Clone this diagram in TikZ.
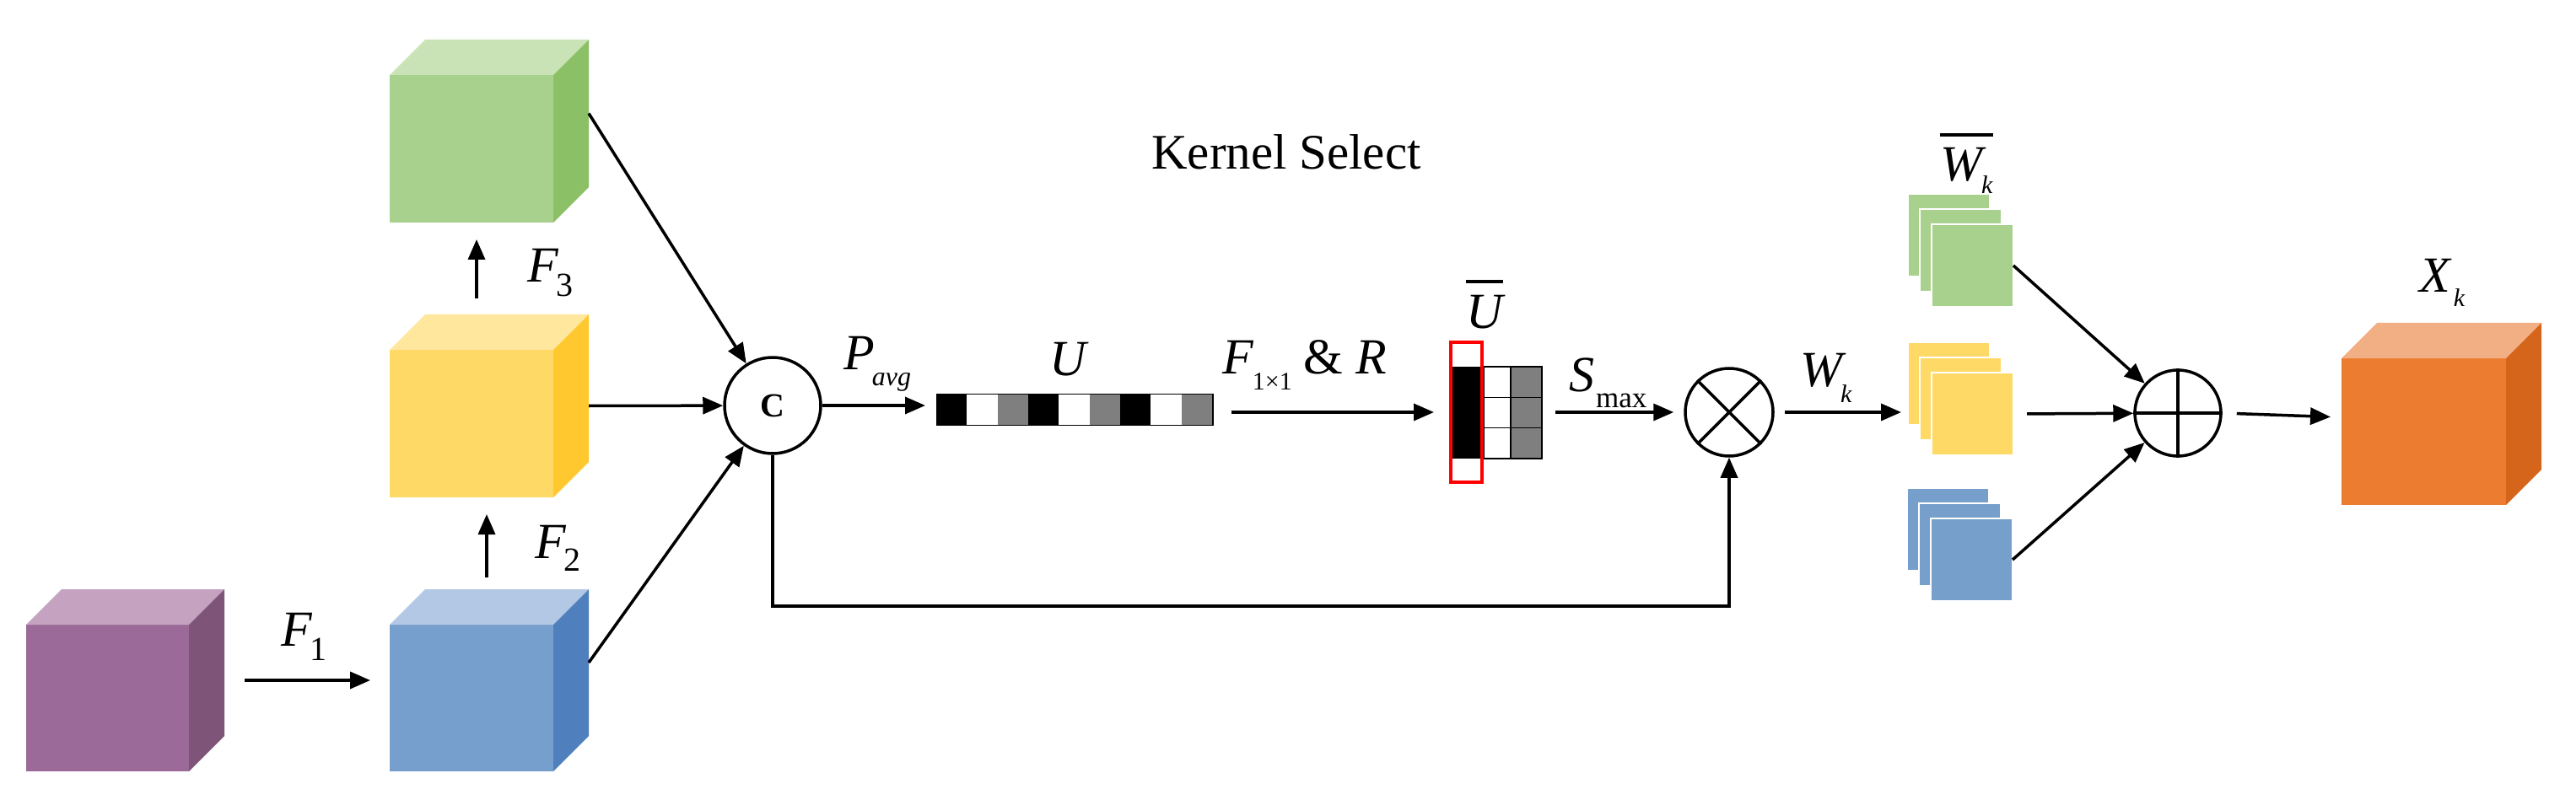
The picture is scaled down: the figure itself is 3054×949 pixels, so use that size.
\documentclass[tikz,border=0pt]{standalone}
\usepackage{fontspec}
\setmainfont{Liberation Serif}
\usetikzlibrary{arrows.meta,calc}
\definecolor{cPF}{HTML}{9B6A98}\definecolor{cPT}{HTML}{C4A2C0}\definecolor{cPS}{HTML}{7F5479}
\definecolor{cBF}{HTML}{779FCD}\definecolor{cBT}{HTML}{B2C8E4}\definecolor{cBS}{HTML}{4F80BD}
\definecolor{cYF}{HTML}{FFD966}\definecolor{cYT}{HTML}{FFE79D}\definecolor{cYS}{HTML}{FFC82E}
\definecolor{cGF}{HTML}{A9D18E}\definecolor{cGT}{HTML}{C9E2B6}\definecolor{cGS}{HTML}{8BC066}
\definecolor{cOF}{HTML}{EC7C30}\definecolor{cOT}{HTML}{F3AF84}\definecolor{cOS}{HTML}{D5651B}
\definecolor{cSB}{HTML}{769FCC}
\definecolor{cGray}{HTML}{7F7F7F}
\tikzset{
  conn/.style={line width=3.5pt, -{Triangle[length=24pt,width=20pt]}},
  face/.style={draw=none, inner sep=0pt, outer sep=0pt, anchor=north west},
  lab/.style={inner sep=0pt, anchor=base west, font=\fontsize{60}{60}\selectfont\itshape},
  opc/.style={circle, draw, line width=3.5pt, inner sep=0pt, fill=white},
  sheet/.style={draw=white, line width=1.5pt, inner sep=0pt, outer sep=0pt, minimum width=97pt, minimum height=98pt, anchor=north west},
}
\newcommand\mycube[8]{%
  \node[face, fill=#6, minimum width=#4pt, minimum height=#5pt] (#1) at (#2,#3) {};
  \fill[#7] (#1.north west) -- ++(42,-42) -- ($(#1.north east)+(42,-42)$) -- (#1.north east) -- cycle;
  \fill[#8] (#1.north east) -- ++(42,-42) -- ($(#1.south east)+(42,-42)$) -- (#1.south east) -- cycle;
}
\newcommand\mysheets[4]{%
  \node[sheet, fill=#4] (#1B) at (#2,#3) {};
  \node[sheet, fill=#4] (#1M) at ($(#1B.north west)+(14,18)$) {};
  \node[sheet, fill=#4] (#1F) at ($(#1M.north west)+(14,18)$) {};
}
\newcommand\lbsub[5]{#1\kern#5\raisebox{-#3}{\fontsize{#4}{#4}\selectfont#2}}
\begin{document}
\begin{tikzpicture}[x=1pt,y=-1pt]
\useasboundingbox (0,0) rectangle (3054,949);
% cubes
\mycube{purple}{31}{741}{193}{174}{cPF}{cPT}{cPS}
\mycube{blue}{462}{741}{194}{174}{cBF}{cBT}{cBS}
\mycube{yellow}{462}{415}{194}{175}{cYF}{cYT}{cYS}
\mycube{green}{462}{89}{194}{175}{cGF}{cGT}{cGS}
\mycube{orange}{2776}{425}{195}{174}{cOF}{cOT}{cOS}
% sheets
\mysheets{g}{2262}{230}{cGF}
\mysheets{y}{2262}{406}{cYF}
\mysheets{b}{2261}{579}{cSB}
% labels
\node[lab, font=\fontsize{59}{59}\selectfont] (ks) at (1365,201) {Kernel Select};
\node[lab] (lF1) at (333,766) {\lbsub{F}{\upshape 1}{17pt}{40}{-2pt}};
\node[lab] (lF2) at (634,662) {\lbsub{F}{\upshape 2}{15pt}{40}{-2pt}};
\node[lab] (lF3) at (625,335) {\lbsub{F}{\upshape 3}{17pt}{40}{-2pt}};
\node[lab] (lP) at (1000,438) {\lbsub{P}{avg}{19pt}{32}{-3pt}};
\node[lab] (lU) at (1244,445) {U};
\node[lab] (lFR) at (1449,443) {\lbsub{F}{\upshape 1×1}{19pt}{30}{-1pt}\hspace{14pt}{\upshape\&} R};
\node[lab] (lUb) at (1738,389) {\vbox{\hrule height 4pt\kern14pt\hbox{U}}};
\node[lab] (lS) at (1860,464) {\lbsub{S}{\upshape max}{19pt}{35}{2pt}};
\node[lab] (lW) at (2134,458) {\lbsub{W}{k}{19pt}{30}{-2pt}};
\node[lab] (lWb) at (2300,215) {\vbox{\hrule height 4pt\kern14pt\hbox{\lbsub{W}{k}{15pt}{30}{-1pt}}}};
\node[lab] (lX) at (2868,347) {\lbsub{X}{k}{17pt}{30}{4pt}};
% operators
\node[opc, minimum size=114pt, font=\fontsize{40}{40}\selectfont\bfseries] (C) at (916,481) {C};
\node[opc, minimum size=104pt] (otimes) at (2050,489) {};
\draw[line width=3.5pt] (otimes.45) -- (otimes.225) (otimes.135) -- (otimes.315);
\node[opc, minimum size=102pt] (oplus) at (2582,490) {};
\draw[line width=3.5pt] (oplus.north) -- (oplus.south) (oplus.west) -- (oplus.east);
% U bar
\foreach \i/\c in {0/black,1/white,2/cGray,3/black,4/white,5/cGray,6/black,7/white,8/cGray}
  \fill[\c] (1110+36.33*\i,467.5) rectangle ++(36.33,37);
\node[draw, line width=1.5pt, inner sep=0pt, minimum width=327pt, minimum height=37pt, anchor=west] (ubar) at (1110,486) {};
% U-bar block
\foreach \r in {0,1,2} {
  \filldraw[fill=white, draw=black, line width=1.5pt] (1759,435+36.33*\r) rectangle ++(32,36.33);
  \filldraw[fill=cGray, draw=black, line width=1.5pt] (1791,435+36.33*\r) rectangle ++(37,36.33);
}
\fill[black] (1722,435) rectangle (1757,544);
\node[draw=red, line width=4pt, inner sep=0pt, minimum width=37pt, minimum height=166pt] (ured) at (1738.5,489) {};
\coordinate (ugr) at (1828,489);
% connectors
\coordinate (pe) at ($(purple.east)+(42,-21)$);
\draw[conn, shorten <=24pt, shorten >=23pt] (pe) -- (pe -| blue.west);
\draw[conn] ($(blue.north)+(18,-56)$) -- ($(yellow.south)+(18,20)$);
\draw[conn] ($(yellow.north)+(6,-61)$) -- ($(green.south)+(6,20)$);
\draw[conn] ($(green.east)+(42,-42)$) -- (C);
\draw[conn] ($(yellow.east)+(42,-21)$) -- (C);
\draw[conn] ($(blue.east)+(42,-42)$) -- (C);
\draw[conn, shorten >=13pt] (C.east) -- (C.east -| ubar.west);
\draw[conn, shorten <=21pt, shorten >=18pt] (ubar.east |- ured) -- (ured.west);
\draw[conn, shorten <=16pt, shorten >=12pt] (ugr) -- (otimes.west);
\draw[conn, shorten <=12pt, shorten >=8pt] (otimes.east) -- (otimes.east -| yB.west);
\draw[conn] (gF.east) -- (oplus);
\draw[conn, shorten <=16pt] (yF.east) -- (oplus);
\draw[conn] (bF.east) -- (oplus);
\draw[conn, shorten <=17pt, shorten >=13pt] (oplus.east) -- ($(orange.west)+(0,-17)$);
\coordinate (bl) at (916,719);
\draw[conn] (C.south) -- (bl) -| (otimes.south);
\end{tikzpicture}
\end{document}
